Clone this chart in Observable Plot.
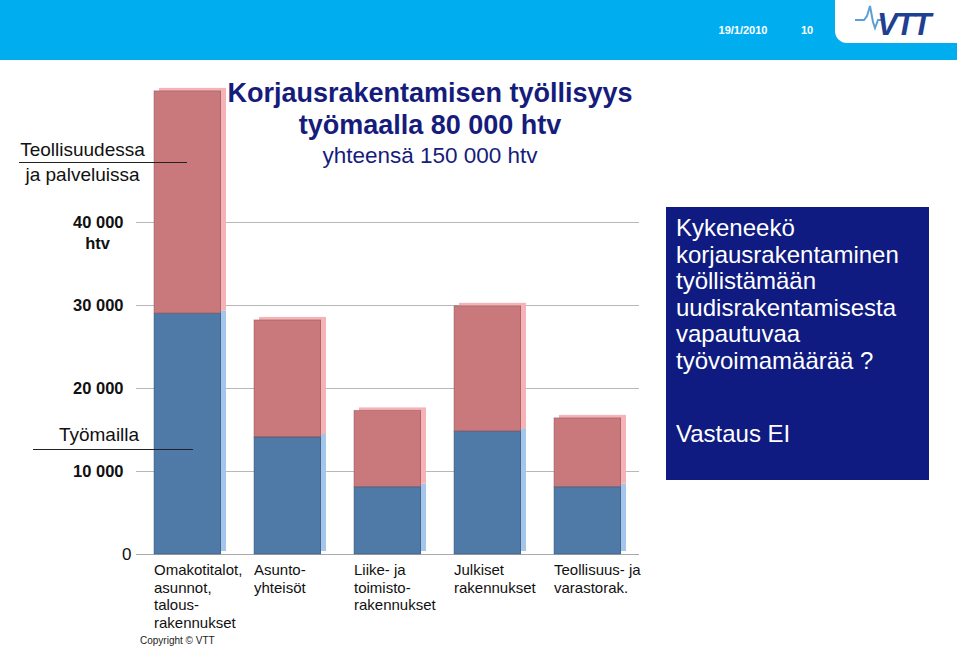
<!DOCTYPE html>
<html>
<head>
<meta charset="utf-8">
<script src="https://cdn.jsdelivr.net/npm/d3@7"></script>
<script src="https://cdn.jsdelivr.net/npm/@observablehq/plot@0.6"></script>
<style>
  html, body { margin: 0; padding: 0; background: #fff; }
  body { font-family: "Liberation Sans", Arial, sans-serif; }
  #wrap { position: relative; width: 960px; height: 647px; overflow: hidden; }
  #chart { position: absolute; left: 0; top: 0; }
  .abs { position: absolute; }
</style>
</head>
<body>
<div id="wrap">
  <div id="chart"></div>

  <!-- header banner -->
  <div class="abs" style="left:0;top:0;width:960px;height:60px;background:#00aeef;"></div>
  <div class="abs" style="left:835px;top:0;width:125px;height:43px;background:#fff;border-bottom-left-radius:12px;"></div>
  <div class="abs" style="left:957px;top:43px;width:3px;height:17px;background:#fff;"></div>
  <div class="abs" style="left:713px;top:22px;width:60px;text-align:center;color:#fff;font-weight:bold;font-size:11px;line-height:16px;">19/1/2010</div>
  <div class="abs" style="left:797px;top:22px;width:20px;text-align:center;color:#fff;font-weight:bold;font-size:11px;line-height:16px;">10</div>
  <svg class="abs" style="left:835px;top:0;" width="125" height="43">
    <polyline points="20,20 29,20 32,16 35,6 38,22 40,28 43,20 50,20" fill="none" stroke="#5b9fd6" stroke-width="2"/>
    <text x="42" y="35" font-family="Liberation Sans, Arial, sans-serif" font-weight="bold" font-style="italic" font-size="31" fill="#1f3f93" letter-spacing="-2">VTT</text>
  </svg>

  <!-- title -->
  <div class="abs" style="left:130px;top:77px;width:600px;text-align:center;color:#161c7c;">
    <div style="font-weight:bold;font-size:27px;line-height:32px;">Korjausrakentamisen työllisyys</div>
    <div style="font-weight:bold;font-size:27px;line-height:32px;">työmaalla 80 000 htv</div>
    <div style="font-size:22.5px;line-height:30px;">yhteensä 150 000 htv</div>
  </div>

  <!-- annotations -->
  <div class="abs" style="left:0;top:137px;width:165px;text-align:center;font-size:19px;line-height:25px;color:#111;">Teollisuudessa<br>ja palveluissa</div>
  <div class="abs" style="left:19px;top:162px;width:168px;height:1px;background:#222;"></div>
  <div class="abs" style="left:40px;top:422px;width:118px;text-align:center;font-size:19px;line-height:25px;color:#111;">Työmailla</div>
  <div class="abs" style="left:33px;top:449px;width:160px;height:1px;background:#222;"></div>

  <!-- question box -->
  <div class="abs" style="left:666px;top:207px;width:263px;height:273px;background:#0f1b80;"></div>
  <div class="abs" style="left:676px;top:215px;width:250px;color:#fff;font-size:24px;line-height:26.5px;">Kykeneekö<br>korjausrakentaminen<br>työllistämään<br>uudisrakentamisesta<br>vapautuvaa<br>työvoimamäärää ?</div>
  <div class="abs" style="left:676px;top:421px;width:250px;color:#fff;font-size:24px;line-height:26.5px;">Vastaus EI</div>

  <!-- copyright -->
  <div class="abs" style="left:140px;top:634px;font-size:10px;line-height:14px;color:#222;">Copyright © VTT</div>
</div>

<script>
// ---- data ----
const categories = [
  "Omakotitalot,\nasunnot,\ntalous-\nrakennukset",
  "Asunto-\nyhteisöt",
  "Liike- ja\ntoimisto-\nrakennukset",
  "Julkiset\nrakennukset",
  "Teollisuus- ja\nvarastorak."
];
const series = ["Työmailla", "Teollisuudessa ja palveluissa"];
const onSite = [29000, 14100, 8100, 14800, 8100];        // työmailla (blue)
const inIndustry = [26800, 14100, 9200, 15100, 8300];    // teollisuudessa ja palveluissa (red)
const yTicks = [0, 10000, 20000, 30000, 40000];
const yMax = 60000;

const frontColors = ["#4f79a7", "#c9787b"];
const backColors = ["#a3c6ea", "#f5b3b7"];

const rows = [];
categories.forEach((c, i) => {
  rows.push({cat: c, series: series[0], value: onSite[i]});
  rows.push({cat: c, series: series[1], value: inIndustry[i]});
});

const fmt = d => d === 0 ? "0" : (d / 1000) + " 000";

const chart = Plot.plot({
  width: 960,
  height: 647,
  marginTop: 56,
  marginBottom: 93,
  marginLeft: 136,
  marginRight: 321,
  style: {fontFamily: "Liberation Sans, Arial, sans-serif", background: "transparent", overflow: "visible", color: "#111"},
  x: {domain: categories, paddingInner: 0.33, paddingOuter: 0.165, axis: null},
  y: {domain: [0, yMax], axis: null},
  color: {type: "identity"},
  marks: [
    Plot.ruleY(yTicks.filter(d => d > 0), {stroke: "#b8b8b8", strokeWidth: 1}),
    Plot.ruleY([0], {stroke: "#aaaaaa", strokeWidth: 1.2}),
    // back faces (3D effect)
    Plot.barY(rows, Plot.stackY({
      x: "cat", y: "value", z: "series",
      fill: d => backColors[series.indexOf(d.series)],
      dx: 5, dy: -3
    })),
    // front faces
    Plot.barY(rows, Plot.stackY({
      x: "cat", y: "value", z: "series",
      fill: d => frontColors[series.indexOf(d.series)]
    })),
    // subtle dark edge
    Plot.barY(rows, Plot.stackY({
      x: "cat", y: "value", z: "series",
      fill: "none", stroke: d => d.series === series[0] ? "#2f4e72" : "#8a4f55",
      strokeOpacity: 0.45, strokeWidth: 1, insetRight: 0.5
    })),
    // y axis labels
    Plot.axisY(yTicks.filter(d => d > 0), {
      tickSize: 0, tickPadding: 13, tickFormat: fmt,
      fontSize: 16.5, fontWeight: "bold", label: null
    }),
    Plot.axisY([0], {
      tickSize: 0, tickPadding: 5, tickFormat: fmt,
      fontSize: 17, label: null
    }),
    Plot.text(["htv"], {
      y: [yTicks[yTicks.length - 1]], frameAnchor: "left",
      dx: -39, dy: 21, textAnchor: "middle",
      fontSize: 16.5, fontWeight: "bold"
    }),
    // x axis labels
    Plot.axisX({
      tickSize: 0, tickPadding: 8, textAnchor: "start", dx: -34,
      lineAnchor: "top", lineHeight: 1.17, fontSize: 15, label: null
    })
  ]
});

document.getElementById("chart").appendChild(chart);
</script>
</body>
</html>
